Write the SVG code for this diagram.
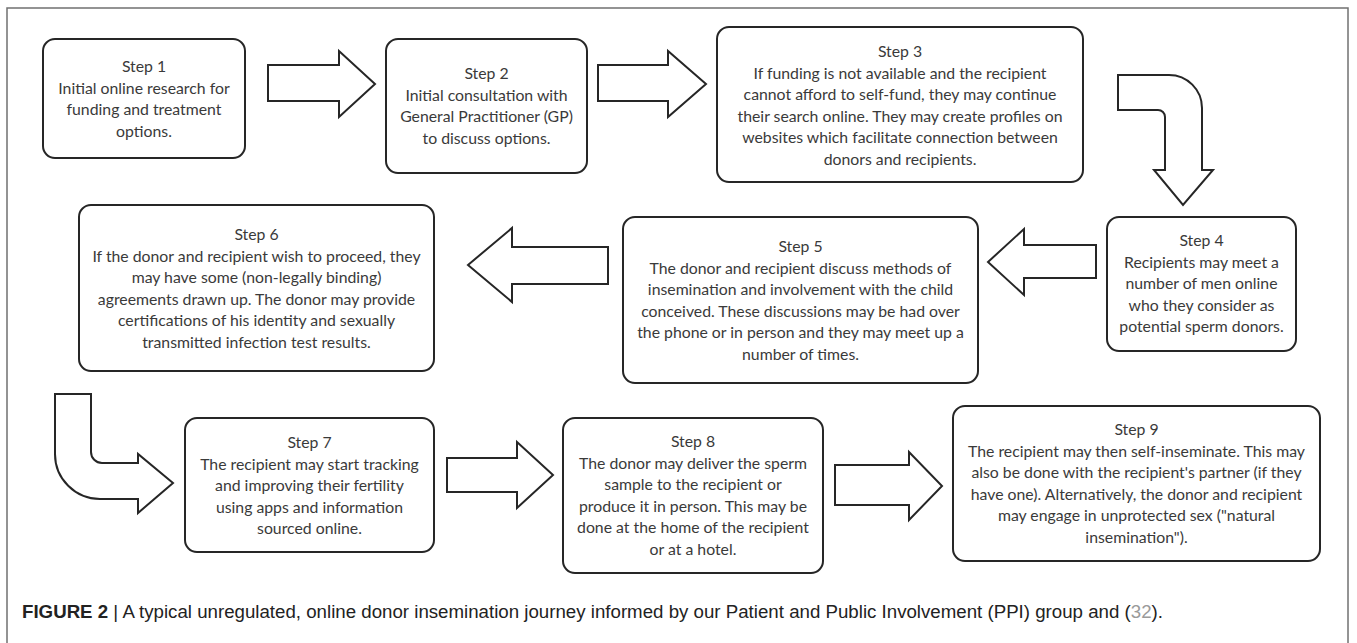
<svg xmlns="http://www.w3.org/2000/svg" width="1357" height="643" viewBox="0 0 1357 643">
<style>
.box{fill:#fff;stroke:#262626;stroke-width:2}
.arr{fill:#fff;stroke:#262626;stroke-width:2;stroke-linejoin:miter}
.t{font-family:Lato,"Liberation Sans",sans-serif;font-size:15.8px;fill:#3a3a3a;text-anchor:middle}
.cap{font-family:"Liberation Sans Narrow","Liberation Sans",Arial,sans-serif;font-size:17.5px;fill:#222}
</style>
<rect x="0" y="0" width="1357" height="643" fill="#fff"/>
<rect x="7" y="8" width="1341" height="660" fill="none" stroke="#707070" stroke-width="1.5"/>
<g id="connectors">
<path class="arr" d="M268,65 H339 V51 L375,84 L339,117 V101 H268 Z"/>
<path class="arr" d="M598,65 H668 V51 L706,84 L668,117 V101 H598 Z"/>
<path class="arr" d="M1118,75 H1169 A33,33 0 0 1 1202,108 V170 H1213 L1183,205 L1154,170 H1165 V117 A7,7 0 0 0 1158,110 H1118 Z"/>
<path class="arr" d="M1096,245 H1024 V229 L988,262 L1024,295 V278 H1096 Z"/>
<path class="arr" d="M608,247 H512 V228 L468,265 L512,302 V284 H608 Z"/>
<path class="arr" d="M55,394 H91 V452 A11,11 0 0 0 102,463 H138 V454 L173,483 L138,513 V499 H100 A45,45 0 0 1 55,454 Z"/>
<path class="arr" d="M447,458 H517 V442 L553,475 L517,508 V492 H447 Z"/>
<path class="arr" d="M835,465 H909 V452 L942,486 L909,520 V505 H835 Z"/>
</g>
<g id="step1">
<rect class="box" x="43" y="39" width="202" height="119" rx="12"/>
<text class="t" x="144" y="72">Step 1<tspan x="144" dy="21.5">Initial online research for</tspan><tspan x="144" dy="21.5">funding and treatment</tspan><tspan x="144" dy="21.5">options.</tspan></text>
</g>
<g id="step2">
<rect class="box" x="386" y="39" width="201" height="134" rx="12"/>
<text class="t" x="486.5" y="79">Step 2<tspan x="486.5" dy="21.5">Initial consultation with</tspan><tspan x="486.5" dy="21.5">General Practitioner (GP)</tspan><tspan x="486.5" dy="21.5">to discuss options.</tspan></text>
</g>
<g id="step3">
<rect class="box" x="717" y="27" width="366" height="155" rx="12"/>
<text class="t" x="900" y="57">Step 3<tspan x="900" dy="21.5">If funding is not available and the recipient</tspan><tspan x="900" dy="21.5">cannot afford to self-fund, they may continue</tspan><tspan x="900" dy="21.5">their search online. They may create profiles on</tspan><tspan x="900" dy="21.5">websites which facilitate connection between</tspan><tspan x="900" dy="21.5">donors and recipients.</tspan></text>
</g>
<g id="step4">
<rect class="box" x="1107" y="217" width="189" height="134" rx="12"/>
<text class="t" x="1201.5" y="246">Step 4<tspan x="1201.5" dy="21.5">Recipients may meet a</tspan><tspan x="1201.5" dy="21.5">number of men online</tspan><tspan x="1201.5" dy="21.5">who they consider as</tspan><tspan x="1201.5" dy="21.5">potential sperm donors.</tspan></text>
</g>
<g id="step5">
<rect class="box" x="623" y="217" width="355" height="166" rx="12"/>
<text class="t" x="800.5" y="252">Step 5<tspan x="800.5" dy="21.5">The donor and recipient discuss methods of</tspan><tspan x="800.5" dy="21.5">insemination and involvement with the child</tspan><tspan x="800.5" dy="21.5">conceived. These discussions may be had over</tspan><tspan x="800.5" dy="21.5">the phone or in person and they may meet up a</tspan><tspan x="800.5" dy="21.5">number of times.</tspan></text>
</g>
<g id="step6">
<rect class="box" x="79" y="205" width="355" height="166" rx="12"/>
<text class="t" x="256.5" y="240">Step 6<tspan x="256.5" dy="21.5">If the donor and recipient wish to proceed, they</tspan><tspan x="256.5" dy="21.5">may have some (non-legally binding)</tspan><tspan x="256.5" dy="21.5">agreements drawn up. The donor may provide</tspan><tspan x="256.5" dy="21.5">certifications of his identity and sexually</tspan><tspan x="256.5" dy="21.5">transmitted infection test results.</tspan></text>
</g>
<g id="step7">
<rect class="box" x="185" y="418" width="249" height="134" rx="12"/>
<text class="t" x="309.5" y="448">Step 7<tspan x="309.5" dy="21.5">The recipient may start tracking</tspan><tspan x="309.5" dy="21.5">and improving their fertility</tspan><tspan x="309.5" dy="21.5">using apps and information</tspan><tspan x="309.5" dy="21.5">sourced online.</tspan></text>
</g>
<g id="step8">
<rect class="box" x="563" y="418" width="260" height="155" rx="12"/>
<text class="t" x="693" y="447">Step 8<tspan x="693" dy="21.5">The donor may deliver the sperm</tspan><tspan x="693" dy="21.5">sample to the recipient or</tspan><tspan x="693" dy="21.5">produce it in person. This may be</tspan><tspan x="693" dy="21.5">done at the home of the recipient</tspan><tspan x="693" dy="21.5">or at a hotel.</tspan></text>
</g>
<g id="step9">
<rect class="box" x="953" y="406" width="367" height="155" rx="12"/>
<text class="t" x="1136.5" y="435">Step 9<tspan x="1136.5" dy="21.5">The recipient may then self-inseminate. This may</tspan><tspan x="1136.5" dy="21.5">also be done with the recipient's partner (if they</tspan><tspan x="1136.5" dy="21.5">have one). Alternatively, the donor and recipient</tspan><tspan x="1136.5" dy="21.5">may engage in unprotected sex ("natural</tspan><tspan x="1136.5" dy="21.5">insemination").</tspan></text>
</g>
<g id="caption">
<text class="cap" x="22" y="618" textLength="1141" lengthAdjust="spacingAndGlyphs"><tspan font-weight="bold">FIGURE 2</tspan> | A typical unregulated, online donor insemination journey informed by our Patient and Public Involvement (PPI) group and (<tspan fill="#9a9a9a">32</tspan>).</text>
</g>
</svg>
